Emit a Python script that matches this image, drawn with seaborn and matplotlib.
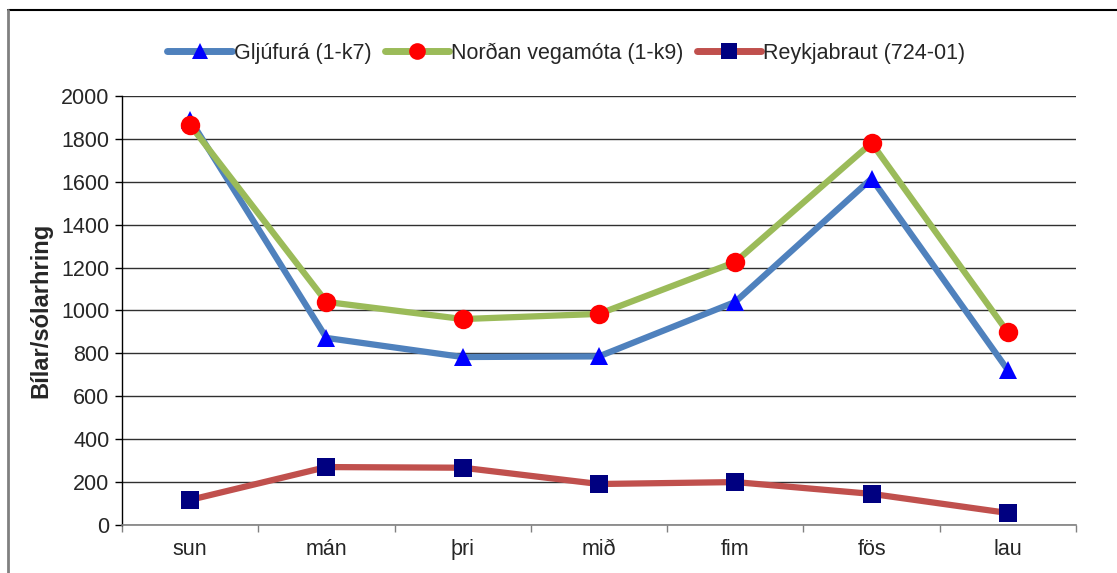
import pandas as pd
import matplotlib.pyplot as plt
import seaborn as sns
from matplotlib.lines import Line2D

### Data
days = ['sun', 'mán', 'þri', 'mið', 'fim', 'fös', 'lau']
gljufura = [1890, 872, 783, 786, 1040, 1615, 722]
nordan = [1865, 1040, 960, 984, 1226, 1781, 898]
reykjabraut = [117, 270, 267, 191, 200, 145, 56]

series = ['Gljúfurá (1-k7)', 'Norðan vegamóta (1-k9)', 'Reykjabraut (724-01)']
df = pd.DataFrame({
    'dagur': days * 3,
    'bilar': gljufura + nordan + reykjabraut,
    'stod': [s for s in series for _ in days],
})

sns.set_style('white')
plt.rcParams['font.family'] = ['Liberation Sans', 'DejaVu Sans']

fig = plt.figure(figsize=(11.17, 5.73), dpi=100)
ax = fig.add_axes([0.1092, 0.0838, 0.8541, 0.7487])

palette = {series[0]: '#4f81bd', series[1]: '#9bbb59', series[2]: '#c0504d'}
sns.lineplot(data=df, x='dagur', y='bilar', hue='stod', palette=palette,
             linewidth=4.5, sort=False, ax=ax, legend=False)

# markers on top of the lines
mk = {series[0]: ('^', 'blue', 13), series[1]: ('o', 'red', 14), series[2]: ('s', '#000080', 13)}
for s in series:
    sub = df[df['stod'] == s]
    m, c, size = mk[s]
    ax.plot(sub['dagur'], sub['bilar'], linestyle='none', marker=m, color=c,
            markersize=size, markeredgewidth=0, zorder=5)

ax.set_xlim(-0.5, 6.5)
ax.set_ylim(0, 2000)
ax.set_yticks(range(0, 2001, 200))
ax.set_xticks(range(len(days)))
ax.set_xticklabels(days)
ax.set_xticks([i - 0.5 for i in range(len(days) + 1)], minor=True)
ax.tick_params(axis='x', which='major', length=0, pad=10, labelsize=15.5)
ax.tick_params(axis='x', which='minor', length=5, color='#808080', width=1, direction='out', bottom=True)
ax.tick_params(axis='y', length=5, color='black', width=1, direction='out', left=True, labelsize=15.5, pad=4)
ax.grid(axis='y', color='#303030', linewidth=1)
ax.set_axisbelow(True)
ax.set_xlabel('')
ax.set_ylabel('Bílar/sólarhring', fontsize=17, fontweight='bold', labelpad=6)
for side in ['top', 'right']:
    ax.spines[side].set_visible(False)
ax.spines['left'].set_color('black')
ax.spines['bottom'].set_color('#808080')
ax.spines['left'].set_linewidth(1)
ax.spines['bottom'].set_linewidth(1.2)

handles = [Line2D([], [], color=palette[s], linewidth=5, marker=mk[s][0],
                  markerfacecolor=mk[s][1], markeredgewidth=0, markersize=mk[s][2] - 2)
           for s in series]
fig.legend(handles, series, loc='center', bbox_to_anchor=(0.507, 0.9075), ncol=3,
           frameon=False, fontsize=15.5, handlelength=3.0, handletextpad=0.1,
           columnspacing=0.6)

# chart-area frame
fig.add_artist(Line2D([0.0072, 1.0], [0.9825, 0.9825], color='black', linewidth=1.5, transform=fig.transFigure))
fig.add_artist(Line2D([0.0072, 0.0072], [0.0, 0.9825], color='#808080', linewidth=2, transform=fig.transFigure))

fig.savefig('out.png', dpi=100)
